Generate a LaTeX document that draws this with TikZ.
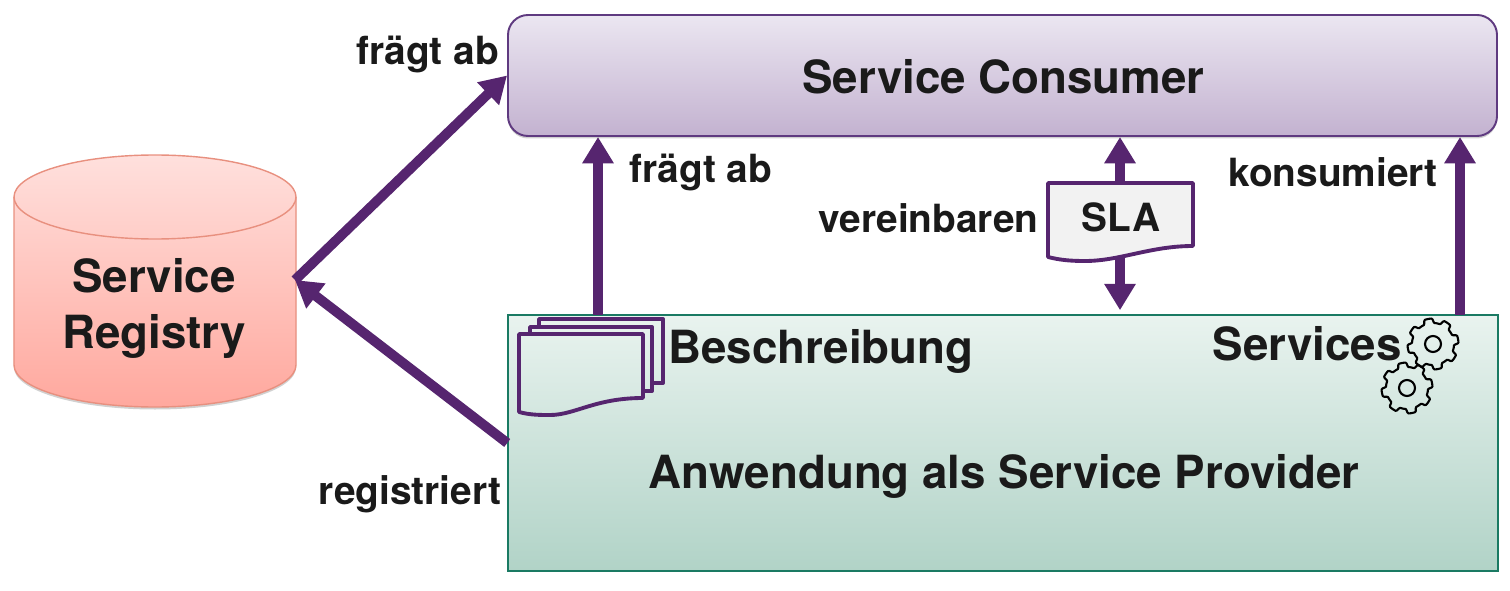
\documentclass[tikz,border=0pt]{standalone}
\usepackage{xcolor}
\usepackage{fontspec}
\setmainfont{TeX Gyre Heros}
\usetikzlibrary{arrows.meta,shadows}
\definecolor{FlowPurple}{HTML}{56256F}
\definecolor{BoxPurple}{HTML}{5F3A80}
\definecolor{ConsumerTop}{HTML}{EBE6F1}
\definecolor{ConsumerLow}{HTML}{C3B2D0}
\definecolor{ProviderLine}{HTML}{1A7A63}
\definecolor{ProviderTop}{HTML}{E9F3EF}
\definecolor{ProviderLow}{HTML}{B1D3C7}
\definecolor{RegistryLine}{HTML}{E8907F}
\definecolor{RegistryTop}{HTML}{FFE0DD}
\definecolor{RegistryLow}{HTML}{FFA89E}
\definecolor{SlaGrey}{HTML}{F2F2F2}
\definecolor{TextDark}{HTML}{1A1A1A}
\begin{document}
\begin{tikzpicture}[font=\bfseries,every node/.style={text=TextDark},flow/.style={-{Triangle[length=15pt,width=17pt]},draw=FlowPurple,line width=5.6pt},biglabel/.style={font=\fontsize{26}{31.9}\selectfont\bfseries},smalllabel/.style={font=\fontsize{22.1}{26}\selectfont\bfseries,anchor=base},softshadow/.style={drop shadow={shadow xshift=0cm,shadow yshift=-.05cm,opacity=.3,fill=black!60}},docline/.style={draw=FlowPurple,line width=2.2pt,line join=round},gearline/.style={draw=black,line width=1.2pt,line join=round}]
\useasboundingbox (0,0) rectangle (30.2,11.8);
\node[softshadow,draw=BoxPurple,line width=1.1pt,rounded corners=.4cm,top color=ConsumerTop,bottom color=ConsumerLow,minimum width=19.78cm,minimum height=2.42cm] (consumer) at (20.05,10.29) {};
\node[biglabel] (consumerlabel) at (20.07,10.27) {Service Consumer};
\node[draw=ProviderLine,line width=.9pt,top color=ProviderTop,bottom color=ProviderLow,minimum width=19.8cm,minimum height=5.12cm] (provider) at (20.06,2.94) {};
% registry
\path[softshadow,draw=RegistryLine,line width=.8pt,top color=RegistryTop,bottom color=RegistryLow] (.28,7.86) arc[start angle=180,end angle=0,x radius=2.82,y radius=.84] -- (5.92,4.5) arc[start angle=0,end angle=-180,x radius=2.82,y radius=.84] -- cycle;
\draw[draw=RegistryLine,line width=.8pt] (.28,7.86) arc[start angle=180,end angle=360,x radius=2.82,y radius=.84];
\coordinate (registry) at (5.9,6.2);
\node[biglabel,align=center] (registrylabel) at (3.08,5.63) {Service\\Registry};
% pfeile
\coordinate (abfrage) at (11.96,5.5);
\coordinate (konsum) at (29.2,5.5);
\coordinate (slamitte) at (22.4,7.36);
\draw[flow] (registry) -- (consumer.west);
\draw[flow] (provider.west) -- (registry);
\draw[flow] (abfrage) -- (abfrage |- consumer.south);
\draw[flow] (konsum) -- (konsum |- consumer.south);
\draw[flow,{Triangle[length=15pt,width=17pt]}-{Triangle[length=15pt,width=17pt]},shorten >=.08cm] (slamitte |- consumer.south) -- (slamitte |- provider.north);
\draw[docline,fill=SlaGrey] (20.96,8.14) -- (23.86,8.14) -- (23.86,6.88) .. controls (23.0,6.88) and (22.4,6.58) .. (21.7,6.58) .. controls (21.4,6.58) and (21.2,6.6) .. (20.96,6.66) -- cycle;
\node[smalllabel] (sla) at (22.42,7.16) {SLA};
% beschreibung
\draw[docline] (10.78,5.26) -- (10.78,5.42) -- (13.26,5.42) -- (13.26,4.14) -- (13.04,4.14);
\draw[docline] (10.6,5.12) -- (10.6,5.26) -- (13.04,5.26) -- (13.04,3.98) -- (12.86,3.98);
\draw[docline] (10.38,5.12) -- (12.86,5.12) -- (12.86,3.84) .. controls (11.9,3.84) and (11.5,3.5) .. (11,3.5) .. controls (10.8,3.5) and (10.6,3.5) .. (10.38,3.56) -- cycle;
% zahnraeder
\foreach \gx/\gy in {28.66/4.92,28.14/4.04}{\draw[gearline,shift={(\gx,\gy)}] plot[variable=\t,domain=0:360,samples=145] (\t+11:{.42+.09*min(1,max(0,.5+1.6*cos(8*\t)))}) -- cycle;\draw[gearline] (\gx,\gy) circle (.16);}
\node[biglabel,anchor=base] (beschreibung) at (16.42,4.54) {Beschreibung};
\node[biglabel,anchor=base] (services) at (26.14,4.6) {Services};
\node[biglabel,anchor=base] (anwendung) at (20.08,2.04) {Anwendung als Service Provider};
\node[smalllabel] (abfrage1) at (8.55,10.5) {frägt ab};
\node[smalllabel] (abfrage2) at (14.02,8.14) {frägt ab};
\node[smalllabel] (konsumiert) at (26.66,8.06) {konsumiert};
\node[smalllabel] (vereinbaren) at (18.57,7.14) {vereinbaren};
\node[smalllabel] (registriert) at (8.2,1.72) {registriert};
\end{tikzpicture}
\end{document}
